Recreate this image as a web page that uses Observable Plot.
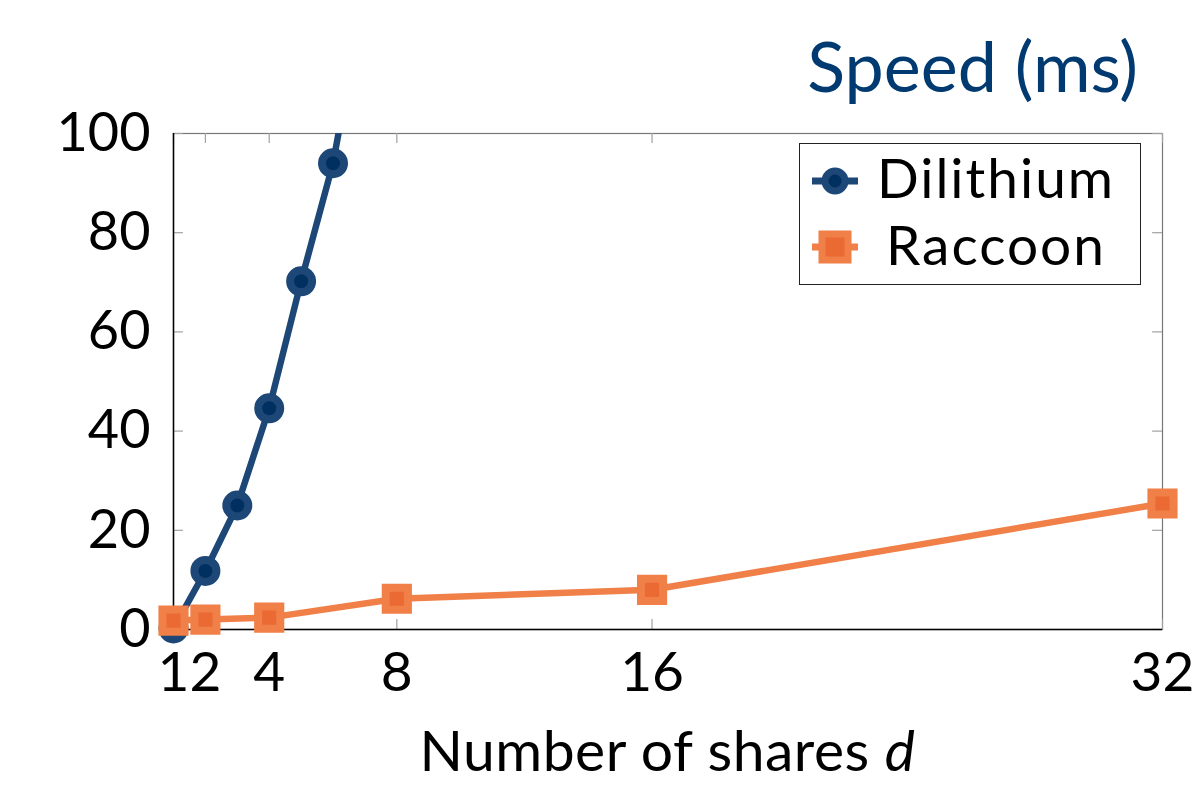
<!DOCTYPE html>
<html>
<head>
<meta charset="utf-8">
<script src="https://cdn.jsdelivr.net/npm/d3@7"></script>
<script src="https://cdn.jsdelivr.net/npm/@observablehq/plot@0.6"></script>
<style>
  html, body { margin: 0; padding: 0; background: #fff; }
  #wrap { position: relative; width: 1200px; height: 789px; font-family: Lato, "Open Sans", sans-serif; }
  #wrap svg { position: absolute; left: 0; top: 0; }
  .ov { position: absolute; white-space: nowrap; line-height: 1; }
  #title { right: 62px; top: 30px; font-size: 70px; color: #003a70; }
  #xlabel { left: 0; width: 1335px; text-align: center; top: 724px; font-size: 57px; line-height: 50px; color: #000; letter-spacing: 0.5px; }
  #legend { left: 799px; top: 143px; width: 342px; height: 142px; border: 1.5px solid #222; background: #fff; box-sizing: border-box; }
  #legend svg { position: absolute; }
  #legend span { position: absolute; left: 60px; width: 272px; text-align: center; font-size: 55px; line-height: 56px; letter-spacing: 2px; color: #000; }
</style>
</head>
<body>
<div id="wrap"></div>
<script>
const shares = [1, 2, 3, 4, 5, 6, 7];
const dilithium = [0.2, 11.8, 25.0, 44.6, 70.2, 94.0, 129];
const raccoonShares = [1, 2, 4, 8, 16, 32];
const raccoon = [1.8, 2.0, 2.4, 6.2, 8.0, 25.4];
const xTicks = [1, 2, 4, 8, 16, 32];
const yTicks = [0, 20, 40, 60, 80, 100];
const seriesNames = ["Dilithium", "Raccoon"];

const dData = shares.map((s, i) => ({x: s, y: dilithium[i]}));
const rData = raccoonShares.map((s, i) => ({x: s, y: raccoon[i]}));

const blueLine = "#1d4777", blueFill = "#00305f";
const orangeLine = "#f07f48", orangeFill = "#eb6a33";
const tickGray = "#a0a0a0";

const chart = Plot.plot({
  width: 1200,
  height: 789,
  marginLeft: 173,
  marginRight: 38,
  marginTop: 133,
  marginBottom: 160,
  style: {fontFamily: "Lato, 'Open Sans', sans-serif", fontSize: "55px", background: "transparent", overflow: "visible"},
  x: {domain: [1, 32], type: "linear"},
  y: {domain: [0, 100]},
  marks: [
    Plot.frame({stroke: "#777", strokeWidth: 1.2}),
    // inward ticks
    Plot.ruleX(xTicks, {x: d => d, y1: 0, y2: 2, stroke: tickGray, strokeWidth: 1.2}),
    Plot.ruleX(xTicks, {x: d => d, y1: 98, y2: 100, stroke: tickGray, strokeWidth: 1.2}),
    Plot.ruleY(yTicks, {y: d => d, x1: 1, x2: 1.31, stroke: tickGray, strokeWidth: 1.2}),
    Plot.ruleY(yTicks, {y: d => d, x1: 31.69, x2: 32, stroke: tickGray, strokeWidth: 1.2}),
    Plot.ruleX([1], {stroke: "#000", strokeWidth: 1.5}),
    Plot.ruleY([0], {stroke: "#000", strokeWidth: 1.5}),
    Plot.axisX(xTicks, {tickSize: 0, tickPadding: 22, fontSize: 55, tickFormat: d => String(d), label: null, fill: "#000"}),
    Plot.axisY(yTicks, {tickSize: 0, tickPadding: 23, fontSize: 54, label: null, fill: "#000"}),
    Plot.line(dData, {x: "x", y: "y", stroke: blueLine, strokeWidth: 6.5, clip: true}),
    Plot.dot(dData, {filter: d => d.y <= 100, x: "x", y: "y", r: 11, fill: blueFill, stroke: blueLine, strokeWidth: 8}),
    Plot.line(rData, {x: "x", y: "y", stroke: orangeLine, strokeWidth: 6.5}),
    Plot.dot(rData, {x: "x", y: "y", symbol: "square", r: 12.5, fill: orangeFill, stroke: orangeLine, strokeWidth: 8})
  ]
});

const wrap = document.getElementById("wrap");
wrap.appendChild(chart);

const title = document.createElement("div");
title.className = "ov"; title.id = "title"; title.textContent = "Speed (ms)";
wrap.appendChild(title);

const xl = document.createElement("div");
xl.className = "ov"; xl.id = "xlabel";
xl.innerHTML = "Number of shares <i>d</i>";
wrap.appendChild(xl);

const legend = document.createElement("div");
legend.className = "ov"; legend.id = "legend";
legend.innerHTML = `
  <svg width="46" height="40" style="left:12px;top:17px"><line x1="0" y1="20" x2="46" y2="20" stroke="${blueLine}" stroke-width="7"/><circle cx="23" cy="20" r="10" fill="${blueFill}" stroke="${blueLine}" stroke-width="7"/></svg>
  <span style="top:5px">${seriesNames[0]}</span>
  <svg width="46" height="40" style="left:12px;top:83px"><line x1="0" y1="20" x2="46" y2="20" stroke="${orangeLine}" stroke-width="7"/><rect x="10" y="7" width="26" height="26" fill="${orangeFill}" stroke="${orangeLine}" stroke-width="7"/></svg>
  <span style="top:72px">${seriesNames[1]}</span>`;
wrap.appendChild(legend);
</script>
</body>
</html>
